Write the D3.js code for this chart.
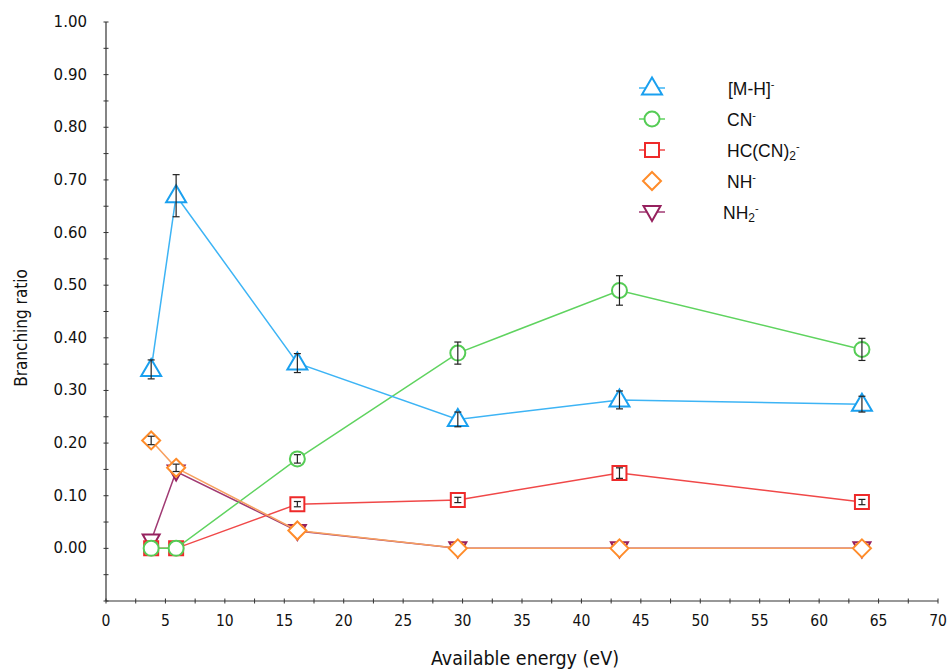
<!DOCTYPE html>
<html>
<head>
<meta charset="utf-8">
<script src="https://cdn.jsdelivr.net/npm/d3@7"></script>
<style>
  body { margin: 0; background: #fff; }
  svg { display: block; }
</style>
</head>
<body>
<svg id="chart" width="951" height="670"></svg>
<script>
// energies (eV)
var energy = [3.8, 5.9, 16.1, 29.6, 43.2, 63.6];

// branching ratios and errors
var mh = [0.34, 0.67, 0.352, 0.245, 0.282, 0.274];
var mhErr = [0.018, 0.04, 0.018, 0.014, 0.017, 0.015];
var cn = [0.0, 0.0, 0.17, 0.371, 0.49, 0.378];
var cnErr = [0, 0, 0.008, 0.021, 0.028, 0.021];
var hc = [0.0, 0.0, 0.084, 0.092, 0.143, 0.088];
var hcErr = [0, 0, 0.005, 0.005, 0.01, 0.005];
var nh = [0.205, 0.153, 0.034, 0.0, 0.0, 0.0];
var nhErr = [0.008, 0.007, 0, 0, 0, 0];
var nh2 = [0.015, 0.146, 0.033, 0.0, 0.0, 0.0];

var xTicks = d3.range(0, 71, 5);
var yTicks = d3.range(0, 1.001, 0.1);

var svg = d3.select("#chart");

var x = d3.scaleLinear().domain([0, 70]).range([106, 938]);
var y = d3.scaleLinear().domain([-0.1, 1.0]).range([601, 22]);

// axes
var xAxis = svg.append("g").attr("transform", "translate(0,601)");
xAxis.append("line").attr("x1", x(0)).attr("x2", x(70)).attr("stroke", "#333").attr("stroke-width", 1.2);
xAxis.selectAll(".mt").data(d3.range(0, 70.1, 2.5)).enter().append("line")
  .attr("x1", d => x(d)).attr("x2", d => x(d)).attr("y1", -2.5).attr("y2", 2.5)
  .attr("stroke", "#333");
xAxis.selectAll("text").data(xTicks).enter().append("text")
  .attr("x", d => x(d)).attr("y", 25)
  .attr("text-anchor", "middle")
  .attr("font-family", "DejaVu Sans Condensed, sans-serif")
  .attr("font-size", 15.5).attr("fill", "#111")
  .text(d => d);

var yAxis = svg.append("g").attr("transform", "translate(106,0)");
yAxis.append("line").attr("y1", y(1.0)).attr("y2", y(-0.1)).attr("stroke", "#333").attr("stroke-width", 1.2);
yAxis.selectAll(".mt").data(d3.range(-0.1, 1.001, 0.05)).enter().append("line")
  .attr("y1", d => y(d)).attr("y2", d => y(d)).attr("x1", -2.5).attr("x2", 2.5)
  .attr("stroke", "#333");
yAxis.selectAll("text").data(yTicks).enter().append("text")
  .attr("x", -19).attr("y", d => y(d) + 5)
  .attr("text-anchor", "end")
  .attr("font-family", "DejaVu Sans, sans-serif")
  .attr("font-size", 15).attr("fill", "#111")
  .text(d => d3.format(".2f")(d));

svg.append("text")
  .attr("transform", "translate(27,328) rotate(-90)")
  .attr("text-anchor", "middle")
  .attr("font-family", "DejaVu Sans Condensed, sans-serif")
  .attr("font-size", 17).attr("fill", "#111")
  .text("Branching ratio");

svg.append("text")
  .attr("x", 525).attr("y", 665)
  .attr("text-anchor", "middle")
  .attr("font-family", "DejaVu Sans Condensed, sans-serif")
  .attr("font-size", 19.5).attr("fill", "#111")
  .text("Available energy (eV)");

function markerPath(shape) {
  if (shape == "tri") return "M0,-10.5L10,6.5L-10,6.5Z";
  if (shape == "tridown") return "M0,9L8.5,-6L-8.5,-6Z";
  if (shape == "sq") return "M-7,-7H7V7H-7Z";
  if (shape == "dia") return "M0,-9L9,0L0,9L-9,0Z";
  return null;
}

function drawMarker(g, shape, color) {
  if (shape == "circ") {
    return g.append("circle").attr("r", 7.5).attr("fill", "#fff").attr("stroke", color).attr("stroke-width", 2);
  }
  return g.append("path").attr("d", markerPath(shape)).attr("fill", "#fff").attr("stroke", color).attr("stroke-width", 2);
}

var series = [
  {vals: nh2, err: null, line: "#a03a73", mark: "#96215e", shape: "tridown"},
  {vals: hc, err: hcErr, line: "#f04848", mark: "#ee2a2a", shape: "sq"},
  {vals: cn, err: cnErr, line: "#5fd35f", mark: "#55cc55", shape: "circ"},
  {vals: nh, err: nhErr, line: "#f7a060", mark: "#ff8c2a", shape: "dia"},
  {vals: mh, err: mhErr, line: "#3db4f5", mark: "#1aa0ef", shape: "tri"}
];

var lineGen = d3.line().x(d => x(d[0])).y(d => y(d[1]));

series.forEach(function(s) {
  var pts = energy.map((e, i) => [e, s.vals[i]]);
  svg.append("path").datum(pts).attr("d", lineGen)
    .attr("fill", "none").attr("stroke", s.line).attr("stroke-width", 1.5);
  pts.forEach(function(p, i) {
    var g = svg.append("g").attr("transform", "translate(" + x(p[0]) + "," + y(p[1]) + ")");
    drawMarker(g, s.shape, s.mark);
    if (s.err && s.err[i] > 0) {
      var e = s.err[i];
      var y0 = y(p[1] + e) - y(p[1]), y1 = y(p[1] - e) - y(p[1]);
      g.append("line").attr("y1", y0).attr("y2", y1).attr("stroke", "#222").attr("stroke-width", 1.2);
      g.append("line").attr("x1", -3.5).attr("x2", 3.5).attr("y1", y0).attr("y2", y0).attr("stroke", "#222").attr("stroke-width", 1.2);
      g.append("line").attr("x1", -3.5).attr("x2", 3.5).attr("y1", y1).attr("y2", y1).attr("stroke", "#222").attr("stroke-width", 1.2);
    }
  });
});

// legend
var legendItems = [
  {s: series[4], name: "[M-H]", sub: "", sup: "-", y: 88, tx: 728},
  {s: series[2], name: "CN", sub: "", sup: "-", y: 119, tx: 727},
  {s: series[1], name: "HC(CN)", sub: "2", sup: "-", y: 150, tx: 727},
  {s: series[3], name: "NH", sub: "", sup: "-", y: 181, tx: 727},
  {s: series[0], name: "NH", sub: "2", sup: "-", y: 212, tx: 723}
];

legendItems.forEach(function(d) {
  var g = svg.append("g").attr("transform", "translate(652," + d.y + ")");
  if (d.s.shape != "dia") {
    g.append("line").attr("x1", -13).attr("x2", 13).attr("stroke", d.s.line).attr("stroke-width", 1.5);
  }
  drawMarker(g, d.s.shape, d.s.mark);
  var t = svg.append("text").attr("x", d.tx).attr("y", d.y + 7)
    .attr("font-family", "Liberation Sans, Arial, sans-serif")
    .attr("font-size", 17.5).attr("fill", "#111");
  t.append("tspan").text(d.name);
  if (d.sub) t.append("tspan").attr("font-size", 12).attr("dy", 3).text(d.sub);
  t.append("tspan").attr("font-size", 11).attr("dy", d.sub ? -10 : -7).text(d.sup);
});
</script>
</body>
</html>
